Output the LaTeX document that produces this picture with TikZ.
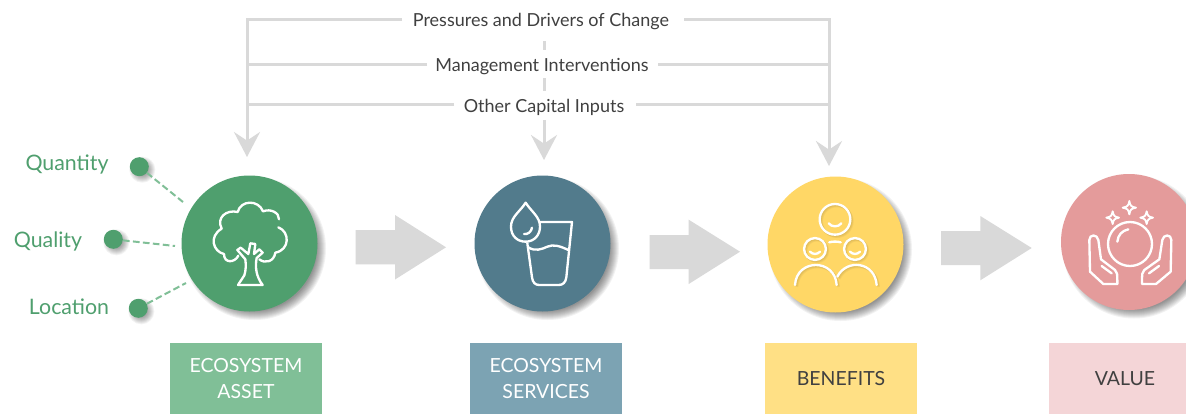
\documentclass[tikz,border=0pt]{standalone}
\usepackage{fontspec}
\setmainfont{Lato}
\usetikzlibrary{arrows.meta}
\definecolor{treeg}{HTML}{4F9F6E}
\definecolor{treel}{HTML}{80BF97}
\definecolor{waterb}{HTML}{527B8C}
\definecolor{waterl}{HTML}{7CA3B3}
\definecolor{yel}{HTML}{FFD766}
\definecolor{yell}{HTML}{FFE085}
\definecolor{pnk}{HTML}{E49B9B}
\definecolor{pnkl}{HTML}{F4D5D7}
\definecolor{arrowg}{HTML}{D9D9D9}
\definecolor{txt}{HTML}{404040}
\newcommand{\softshadow}[4]{% x y r offset
  \foreach \k in {0,...,9}{
    \fill[black,opacity=0.05] (#1+#4,#2+#4) circle[radius={(#3+3.5-\k)*0.75pt}];
  }
}
\tikzset{
  x=0.75pt,y=-0.75pt,
  disc/.style={circle,inner sep=0pt,minimum size=102pt,fill=#1},
  dot/.style={circle,inner sep=0pt,minimum size=14.25pt,fill=treeg},
  glink/.style={draw=arrowg,line width=2.25pt},
  ghead/.style={glink,-{Stealth[length=18.75pt,width=19.5pt,inset=6.5pt]}},
  dlink/.style={draw=treel,line width=1.5pt,dash pattern=on 5pt off 2.5pt},
  block/.style={fill=arrowg},
  cap/.style 2 args={fill=#1,text=#2,inner sep=0pt,minimum width=114pt,minimum height=53.25pt,align=center,font=\fontsize{14.6pt}{19.5pt}\selectfont},
  toplab/.style={text=txt,inner sep=0pt,font=\fontsize{13.5pt}{15pt}\selectfont},
  attr/.style={text=treeg,inner sep=0pt,font=\fontsize{16pt}{18pt}\selectfont},
  icon/.style={draw=white,line width=1.75pt,line cap=round,line join=round},
}
\begin{document}
\begin{tikzpicture}
\useasboundingbox (0,0) rectangle (1186,414);
\clip (0,0) rectangle (1186,414);
\fill[white] (0,0) rectangle (1186,414);

% block arrows
\fill[block] (355.7,230) -- (395,230) -- (395,215) -- (446,247.3) -- (395,279.5) -- (395,264.3) -- (355.7,264.3) -- cycle;
\fill[block] (649.7,235) -- (688.7,235) -- (688.7,219.7) -- (740,251.7) -- (688.7,284) -- (688.7,269) -- (649.7,269) -- cycle;
\fill[block] (941,231) -- (980.3,231) -- (980.3,216) -- (1031.7,248) -- (980.3,280.3) -- (980.3,265) -- (941,265) -- cycle;

% shadows
\softshadow{249.5}{243.5}{68}{5}
\softshadow{542.5}{243.5}{68}{5}
\softshadow{835.5}{244.5}{68}{5}
\softshadow{1129}{242}{68}{5}
\softshadow{139.3}{166.7}{9.5}{3}
\softshadow{113.3}{239.3}{9.5}{3}
\softshadow{138.3}{308.3}{9.5}{3}

% circles
\node[disc=treeg] (asset) at (249.5,243.5) {};
\node[disc=waterb] (services) at (542.5,243.5) {};
\node[disc=yel] (benefits) at (835.5,244.5) {};
\node[disc=pnk] (value) at (1129,242) {};

% attribute dots, labels, dashed links
\node[dot] (dqn) at (139.3,166.7) {};
\node[dot] (dql) at (113.3,239.3) {};
\node[dot] (dlc) at (138.3,308.3) {};
\node[attr] (lqn) at (67,165) {Quantity};
\node[attr] (lql) at (48,241) {Quality};
\node[attr] (llc) at (69,307) {Location};
\coordinate (eqn) at (183,202);
\coordinate (eql) at (175,246);
\coordinate (elc) at (186,283);
\draw[dlink] (dqn) -- (eqn);
\draw[dlink] (dql) -- (eql);
\draw[dlink] (dlc) -- (elc);

% top labels and connectors
\node[toplab] (pd) at (541,21.5) {Pressures and Drivers of Change};
\node[toplab] (mi) at (542,66.5) {Management Interventions};
\node[toplab] (oc) at (544,107.5) {Other Capital Inputs};
\coordinate (tipa) at (247,157);
\coordinate (tipb) at (544,160);
\coordinate (tipc) at (829,166);
\coordinate (pdl) at (402,19); \coordinate (pdr) at (684,19);
\coordinate (mil) at (427,64); \coordinate (mir) at (658,64);
\coordinate (ocl) at (454,104); \coordinate (ocr) at (636,104);
\draw[ghead] (pdl) -| (tipa);
\draw[ghead] (pdr) -| (tipc);
\draw[glink] (mil) -- (247,64);
\draw[glink] (mir) -- (829,64);
\draw[glink] (ocl) -- (247,104);
\draw[glink] (ocr) -- (829,104);
\draw[glink] (544,41) -- (544,50);
\draw[glink] (544,78) -- (544,91);
\draw[ghead] (544,120) -- (tipb);

% caption boxes
\node[cap={treel}{white}] (capa) at (246,378.5) {ECOSYSTEM\\ASSET};
\node[cap={waterl}{white}] (capb) at (546,378.5) {ECOSYSTEM\\SERVICES};
\node[cap={yell}{txt}] (capc) at (841,378.5) {\raisebox{-0.75pt}{BENEFITS}};
\node[cap={pnkl}{txt}] (capd) at (1125,378.5) {\raisebox{-0.75pt}{VALUE}};

% tree icon
\begin{scope}[shift={(0pt,-97.5pt)},x=0.25pt,y=-0.25pt]
\draw[icon] (715,377) .. controls (705,398) and (672,402) .. (672,372)
  .. controls (640,365) and (625,320) .. (665,296)
  .. controls (648,262) and (680,238) .. (713,246)
  .. controls (722,210) and (775,208) .. (789,244)
  .. controls (812,235) and (838,248) .. (837,268);
\draw[icon] (835,292) .. controls (870,305) and (870,360) .. (826,368)
  .. controls (822,395) and (795,402) .. (778,388);
\draw[icon] (714,465) -- (788,465) .. controls (768,440) and (765,410) .. (770,384)
  -- (788,368) -- (778,358) -- (762,372) -- (766,342) -- (751,340) -- (745,372)
  -- (722,353) -- (712,360) -- (736,388) .. controls (738,405) and (738,420) .. (733,436);
\draw[icon] (733,436) -- (714,465);
\end{scope}

% water icon
\begin{scope}[shift={(345pt,-120pt)},x=0.25pt,y=-0.25pt]
\draw[icon] (197,128) .. controls (180,155) and (153,170) .. (153,200)
  .. controls (153,228) and (172,245) .. (197,245)
  .. controls (222,245) and (240,226) .. (240,200)
  .. controls (240,170) and (214,155) .. (197,128) -- cycle;
\draw[icon] (192,222) .. controls (204,224) and (214,215) .. (216,203);
\draw[icon] (240,186) -- (336,186) -- (319,352) .. controls (317,368) and (308,375) .. (296,375)
  -- (238,375) .. controls (226,375) and (218,368) .. (216,352) -- (202,250);
\draw[icon] (205,262) .. controls (225,275) and (245,268) .. (262,260)
  .. controls (280,252) and (300,258) .. (325,270);
\end{scope}

% people icon
\begin{scope}[shift={(562.5pt,-97.5pt)},x=0.25pt,y=-0.25pt]
\foreach \dx/\dy in {6/6,4/4,2/2}{
\begin{scope}[shift={(\dx*0.25pt,-\dy*0.25pt)}]
\draw[draw=black,opacity=0.04,line width=2pt] (255,268) circle[radius=11.5pt];
\draw[draw=black,opacity=0.04,line width=2pt] (195,357) circle[radius=8.2pt];
\draw[draw=black,opacity=0.04,line width=2pt] (315,357) circle[radius=8.2pt];
\draw[draw=black,opacity=0.04,line width=2pt] (135,465) .. controls (140,385) and (255,385) .. (260,465);
\draw[draw=black,opacity=0.04,line width=2pt] (262,440) .. controls (290,385) and (375,395) .. (380,465);
\end{scope}}
\draw[icon] (255,268) circle[radius=11.5pt];
\draw[icon] (236,280) .. controls (245,292) and (265,292) .. (274,280);
\draw[icon] (238,337) .. controls (248,334) and (262,334) .. (272,337);
\draw[icon] (195,357) circle[radius=8.2pt];
\draw[icon] (180,365) .. controls (188,374) and (202,374) .. (210,365);
\draw[icon] (315,357) circle[radius=8.2pt];
\draw[icon] (300,365) .. controls (308,374) and (322,374) .. (330,365);
\draw[icon] (135,465) .. controls (140,385) and (255,385) .. (260,465);
\draw[icon] (262,440) .. controls (290,385) and (375,395) .. (380,465);
\end{scope}

% value icon
\begin{scope}[shift={(780pt,-120pt)},x=0.25pt,y=-0.25pt]
\draw[icon] (270,252) circle[radius=16.5pt];
\draw[icon] (232,245) .. controls (234,225) and (246,212) .. (265,208);
\foreach \cx/\cy/\s in {268/143/20,218/173/19,320/173/19}{
  \draw[icon,line width=1.4pt] (\cx,\cy-\s) .. controls (\cx+3,\cy-5) and (\cx+5,\cy-3) .. (\cx+\s,\cy)
    .. controls (\cx+5,\cy+3) and (\cx+3,\cy+5) .. (\cx,\cy+\s)
    .. controls (\cx-3,\cy+5) and (\cx-5,\cy+3) .. (\cx-\s,\cy)
    .. controls (\cx-5,\cy-3) and (\cx-3,\cy-5) .. (\cx,\cy-\s) -- cycle;
}
\draw[icon] (232,372) -- (190,372) -- (150,335) -- (148,240)
  .. controls (148,222) and (172,222) .. (175,240) -- (183,298) -- (225,330) .. controls (232,336) and (232,340) .. (232,372) -- cycle;
\draw[icon] (185,318) -- (215,340);
\draw[icon] (306,372) -- (348,372) -- (392,335) -- (394,240)
  .. controls (394,222) and (370,222) .. (367,240) -- (358,298) -- (313,330) .. controls (306,336) and (306,340) .. (306,372) -- cycle;
\draw[icon] (357,318) -- (327,340);
\end{scope}
\end{tikzpicture}
\end{document}
